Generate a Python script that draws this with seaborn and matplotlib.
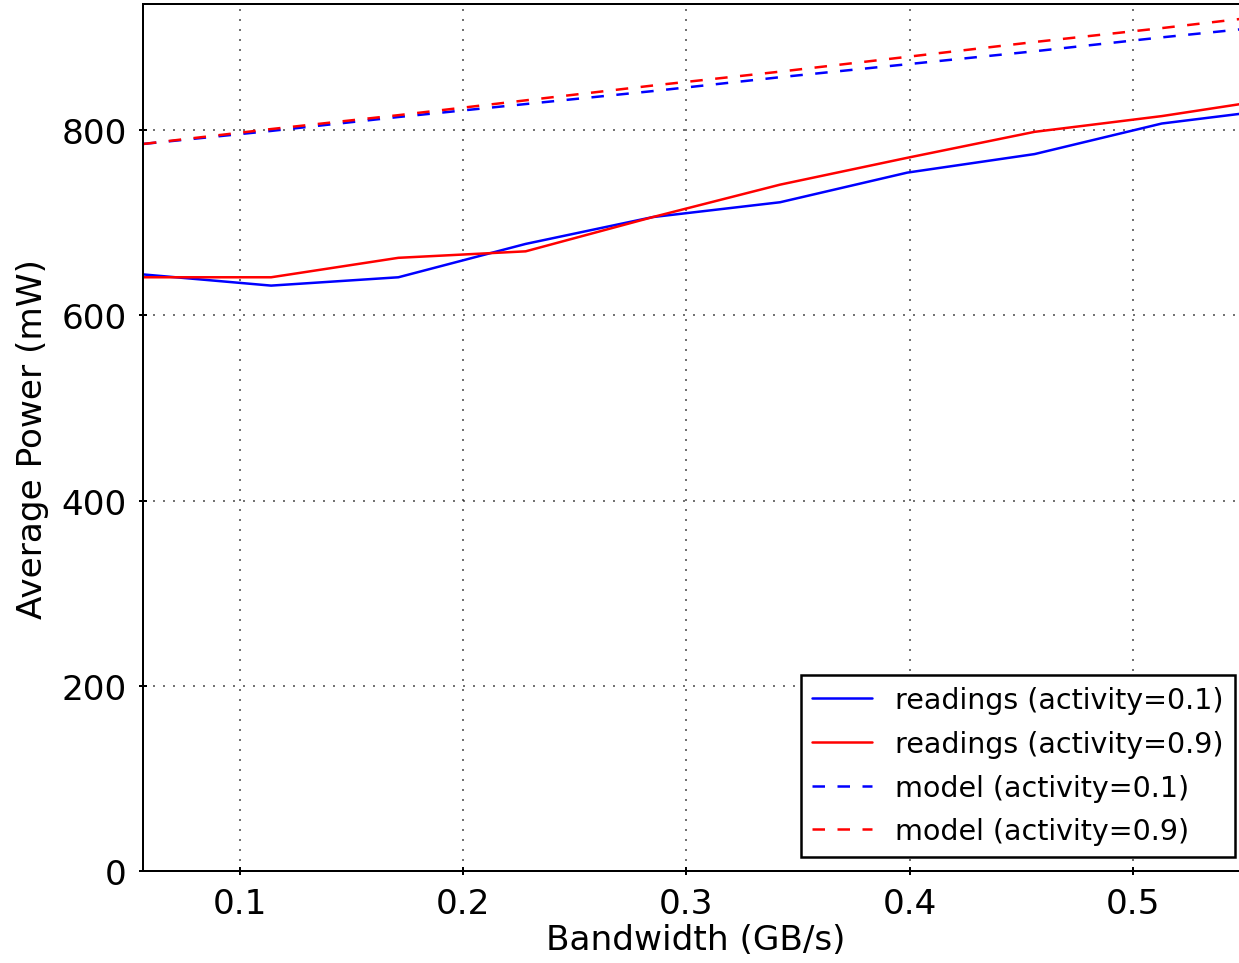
import matplotlib
matplotlib.use("Agg")
import matplotlib.pyplot as plt
import seaborn as sns
import pandas as pd

# Bandwidth sample points (GB/s)
bandwidth = [0.057, 0.114, 0.171, 0.228, 0.285, 0.342, 0.399, 0.456, 0.513, 0.570]

# Measured average power (mW)
readings_01 = [644, 632, 641, 677, 706, 722, 754, 774, 807, 824]
readings_09 = [641, 641, 662, 669, 706, 741, 770, 798, 815, 836]

# Model prediction (mW)
model_01 = [785, 799, 814, 828, 842, 857, 871, 885, 900, 914]
model_09 = [785, 801, 816, 832, 848, 863, 879, 895, 910, 926]

labels = ["readings (activity=0.1)", "readings (activity=0.9)",
          "model (activity=0.1)", "model (activity=0.9)"]

sns.set_style("white")
plt.rcParams["font.family"] = ["DejaVu Sans"]
plt.rcParams["text.color"] = "black"
plt.rcParams["axes.labelcolor"] = "black"

fig = plt.figure(figsize=(1239 / 180, 964 / 180), dpi=180)
ax = fig.add_axes([0.1154, 0.0954, 0.8926, 0.8994])

df = pd.DataFrame({"bw": bandwidth, "r01": readings_01, "r09": readings_09,
                   "m01": model_01, "m09": model_09})

sns.lineplot(data=df, x="bw", y="r01", color="#0000ff", lw=1.0, ax=ax, label=labels[0])
sns.lineplot(data=df, x="bw", y="r09", color="#ff0000", lw=1.0, ax=ax, label=labels[1])
sns.lineplot(data=df, x="bw", y="m01", color="#0000ff", lw=1.0, ax=ax, label=labels[2],
             linestyle=(0, (5, 5)))
sns.lineplot(data=df, x="bw", y="m09", color="#ff0000", lw=1.0, ax=ax, label=labels[3],
             linestyle=(0, (5, 5)))

ax.set_xlim(0.0566, 0.552)
ax.set_ylim(0, 936)
ax.set_xticks([0.1, 0.2, 0.3, 0.4, 0.5])
ax.set_yticks([0, 200, 400, 600, 800])
ax.set_xlabel("Bandwidth (GB/s)", fontsize=13.7, labelpad=1)
ax.set_ylabel("Average Power (mW)", fontsize=13.7, labelpad=5)
ax.tick_params(labelsize=13.7, direction="inout", length=3, width=0.8, colors="black",
               bottom=True, left=True, pad=5)
ax.grid(True, linestyle=(0, (1, 4)), color="black", lw=0.8, alpha=0.55)

for s in ax.spines.values():
    s.set_color("black")
    s.set_linewidth(0.8)

leg = ax.legend(loc="lower right", fontsize=11.4, fancybox=False, framealpha=1,
                edgecolor="black", handlelength=2.1, labelspacing=0.55,
                borderaxespad=0.5)
leg.get_frame().set_linewidth(1.0)

fig.savefig("out.png", dpi=180)
